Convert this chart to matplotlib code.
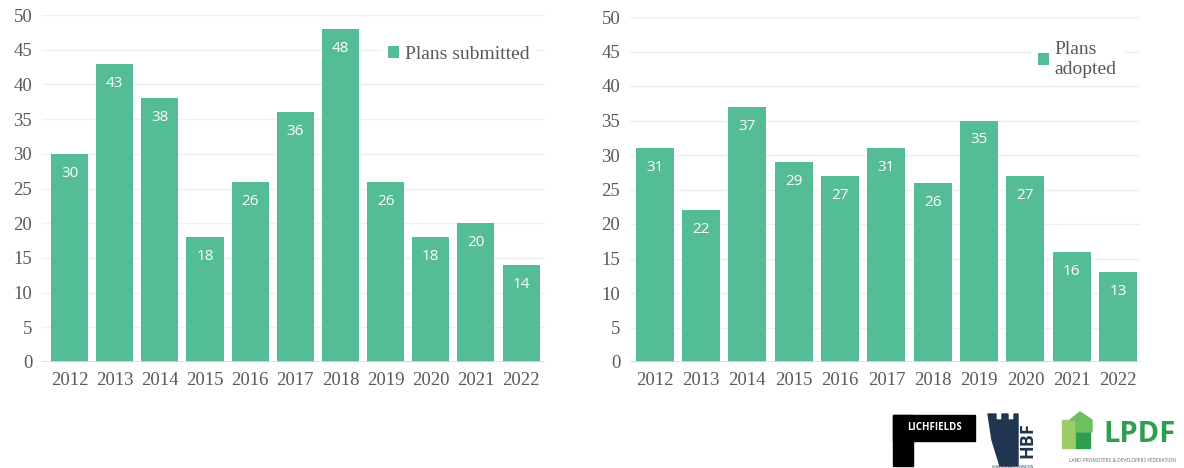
import matplotlib.pyplot as plt
from matplotlib.patches import Rectangle, Polygon

# Data
years = ['2012', '2013', '2014', '2015', '2016', '2017', '2018', '2019', '2020', '2021', '2022']
plans_submitted = [30, 43, 38, 18, 26, 36, 48, 26, 18, 20, 14]
plans_adopted = [31, 22, 37, 29, 27, 31, 26, 35, 27, 16, 13]
yticks = [0, 5, 10, 15, 20, 25, 30, 35, 40, 45, 50]

BAR_COLOR = '#55BD95'
GRID_COLOR = '#efefef'
TICK_COLOR = '#595959'
SERIF = ['Liberation Serif', 'DejaVu Serif']
SANS = ['Open Sans', 'DejaVu Sans']

W, H = 1184, 468
fig = plt.figure(figsize=(W / 100, H / 100), dpi=100)


def px_axes(x0, x1, y_top, y_bot):
    return fig.add_axes([x0 / W, 1 - y_bot / H, (x1 - x0) / W, (y_bot - y_top) / H])


def draw_panel(ax, values, label, xlim):
    x = list(range(len(years)))
    ax.bar(x, values, width=0.82, color=BAR_COLOR, zorder=2, label=label)
    for xi, v in zip(x, values):
        ax.annotate(str(v), (xi, v), xytext=(0, -14), textcoords='offset points',
                    ha='center', va='center', color='white', fontsize=11,
                    family=SANS, zorder=3)
    ax.set_ylim(0, 50)
    ax.set_xlim(*xlim)
    ax.set_yticks(yticks)
    ax.set_xticks(x)
    ax.set_xticklabels(years)
    for t in ax.get_xticklabels() + ax.get_yticklabels():
        t.set_family(SERIF)
        t.set_fontsize(13.5)
        t.set_color(TICK_COLOR)
    ax.tick_params(length=0)
    ax.tick_params(axis='x', pad=7)
    ax.tick_params(axis='y', pad=7)
    ax.grid(axis='y', color=GRID_COLOR, linewidth=1, zorder=0)
    ax.set_axisbelow(True)
    ax.axhline(0, color='#d9d9d9', linewidth=1.2, zorder=3)
    for s in ax.spines.values():
        s.set_visible(False)


def style_legend(leg):
    frame = leg.get_frame()
    frame.set_edgecolor('white')
    frame.set_facecolor('white')
    frame.set_alpha(1)
    frame.set_boxstyle('square', pad=0)
    for t in leg.get_texts():
        t.set_color(TICK_COLOR)
        t.set_multialignment('left')


ax1 = px_axes(42, 545, 15, 362)
draw_panel(ax1, plans_submitted, 'Plans submitted', (-0.61, 10.53))
leg1 = ax1.legend(loc='upper right', bbox_to_anchor=(1.0, 0.955), frameon=True,
                  handlelength=0.55, handleheight=0.55, handletextpad=0.3,
                  borderpad=0.3, prop={'family': SERIF, 'size': 14})
style_legend(leg1)

ax2 = px_axes(630, 1140, 17, 362)
draw_panel(ax2, plans_adopted, 'Plans\nadopted', (-0.53, 10.47))
leg2 = ax2.legend(loc='upper right', bbox_to_anchor=(0.985, 0.975), frameon=True,
                  handlelength=0.55, handleheight=0.55, handletextpad=0.3,
                  borderpad=0.3, labelspacing=0.1, prop={'family': SERIF, 'size': 14})
style_legend(leg2)

# Logos (rough recreation)
logo = fig.add_axes([0, 0, 1, 1], zorder=-1)
logo.set_xlim(0, W)
logo.set_ylim(H, 0)
logo.axis('off')

# Lichfields
logo.add_patch(Rectangle((893, 415), 82, 26, color='black'))
logo.add_patch(Rectangle((893, 415), 20, 51, color='black'))
logo.text(934, 428, 'LICHFIELDS', color='white', fontsize=7, fontweight='bold',
          ha='center', va='center', family=SANS)

# HBF
navy = '#1f3550'
logo.add_patch(Polygon([(988, 414), (996, 414), (996, 420), (1002, 420), (1002, 414),
                        (1008, 414), (1008, 420), (1014, 420), (1014, 414), (1018, 414),
                        (1018, 466), (1000, 466), (992, 440)],
                       closed=True, color=navy))
logo.text(1027, 440, 'HBF', color=navy, fontsize=13, fontweight='bold',
          rotation=90, ha='center', va='center', family=SANS)
logo.text(1012, 467, 'HOME BUILDERS FEDERATION', color=navy, fontsize=2.2,
          ha='center', va='center', family=SANS)

# LPDF
logo.add_patch(Rectangle((1062, 420), 14, 28, color='#9ccc65'))
logo.add_patch(Rectangle((1076, 432), 14, 16, color='#2e9e4f'))
logo.add_patch(Polygon([(1070, 420), (1080, 412), (1092, 420), (1092, 432), (1076, 432), (1076, 420)],
                       closed=True, color='#6dbf5f'))
logo.text(1140, 435, 'LPDF', color='#2e9e4f', fontsize=21, fontweight='bold',
          ha='center', va='center', family=SANS)
logo.text(1122, 461, 'LAND PROMOTERS & DEVELOPERS FEDERATION', color='#666666',
          fontsize=3.4, ha='center', va='center', family=SANS)

fig.savefig('out.png', dpi=100, facecolor='white')
